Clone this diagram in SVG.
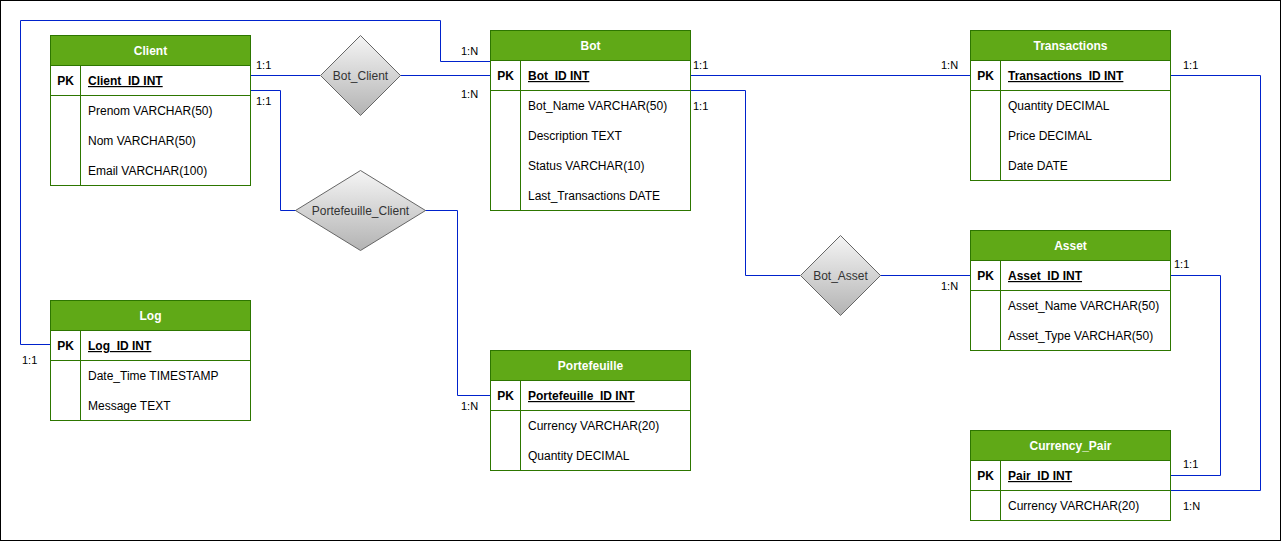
<svg xmlns="http://www.w3.org/2000/svg" width="1281" height="541" viewBox="0 0 1281 541">
<style>
.tb{fill:#fff;stroke:#2D7600;stroke-width:1}
.hd{fill:#60A917;stroke:#2D7600;stroke-width:1}
.ln{stroke:#2D7600;stroke-width:1;fill:none}
.ht{font-family:"Liberation Sans",Arial,sans-serif;font-size:12px;font-weight:bold;fill:#fff;text-anchor:middle}
.pk{font-family:"Liberation Sans",Arial,sans-serif;font-size:12px;font-weight:bold;fill:#000;text-anchor:middle}
.key{font-family:"Liberation Sans",Arial,sans-serif;font-size:12px;font-weight:bold;fill:#000;text-decoration:underline}
.rt{font-family:"Liberation Sans",Arial,sans-serif;font-size:12px;fill:#000}
.dm{stroke:#666;stroke-width:1;fill:url(#g)}
.dt{font-family:"Liberation Sans",Arial,sans-serif;font-size:12px;fill:#333;text-anchor:middle}
.cn{stroke:#0022CC;stroke-width:1;fill:none}
.lb{font-family:"Liberation Sans",Arial,sans-serif;font-size:11px;fill:#000}
</style>
<defs>
<linearGradient id="g" x1="0" y1="0" x2="0" y2="1">
<stop offset="0" stop-color="#F5F5F5"/>
<stop offset="1" stop-color="#B3B3B3"/>
</linearGradient>
</defs>
<rect x="0.5" y="0.5" width="1280" height="540" fill="#fff" stroke="#000"/>

<g id="connectors">
<polyline class="cn" points="250,75.5 320,75.5"/>
<polyline class="cn" points="400,75.5 490,75.5"/>
<polyline class="cn" points="50,344.5 20.5,344.5 20.5,20.5 440.5,20.5 440.5,61.5 490,61.5"/>
<polyline class="cn" points="250,90.5 280.5,90.5 280.5,210.5 296,210.5"/>
<polyline class="cn" points="425,210.5 457.5,210.5 457.5,395.5 490,395.5"/>
<polyline class="cn" points="690,75.5 970,75.5"/>
<polyline class="cn" points="690,90.5 745.5,90.5 745.5,275.5 800,275.5"/>
<polyline class="cn" points="880,275.5 970,275.5"/>
<polyline class="cn" points="1170,275.5 1220.5,275.5 1220.5,475.5 1170,475.5"/>
<polyline class="cn" points="1170,75.5 1260.5,75.5 1260.5,490.5 1170,490.5"/>
<text class="lb" x="256" y="69">1:1</text>
<text class="lb" x="256" y="105">1:1</text>
<text class="lb" x="461" y="55">1:N</text>
<text class="lb" x="461" y="98">1:N</text>
<text class="lb" x="461" y="410">1:N</text>
<text class="lb" x="22" y="364">1:1</text>
<text class="lb" x="693" y="69">1:1</text>
<text class="lb" x="693" y="110">1:1</text>
<text class="lb" x="941" y="69">1:N</text>
<text class="lb" x="941" y="290">1:N</text>
<text class="lb" x="1183" y="69">1:1</text>
<text class="lb" x="1174" y="268">1:1</text>
<text class="lb" x="1183" y="468">1:1</text>
<text class="lb" x="1183" y="510">1:N</text>
</g>

<g id="Bot_Client">
<polygon class="dm" points="360.5,35.5 400.5,75.5 360.5,115.5 320.5,75.5"/>
<text class="dt" x="360.5" y="79.5">Bot_Client</text>
</g>
<g id="Portefeuille_Client">
<polygon class="dm" points="360.5,170.5 425.5,210.5 360.5,250.5 295.5,210.5"/>
<text class="dt" x="360.5" y="214.5">Portefeuille_Client</text>
</g>
<g id="Bot_Asset">
<polygon class="dm" points="840.5,235.5 880.5,275.5 840.5,315.5 800.5,275.5"/>
<text class="dt" x="840.5" y="279.5">Bot_Asset</text>
</g>

<g id="Client">
<rect class="tb" x="50.5" y="35.5" width="200" height="150"/>
<rect class="hd" x="50.5" y="35.5" width="200" height="30"/>
<path class="ln" d="M50.5 95.5H250.5M80.5 65.5V185.5"/>
<text class="ht" x="150.5" y="55">Client</text>
<text class="pk" x="65.5" y="85">PK</text>
<text class="key" x="88" y="85">Client_ID INT</text>
<text class="rt" x="88" y="115">Prenom VARCHAR(50)</text>
<text class="rt" x="88" y="145">Nom VARCHAR(50)</text>
<text class="rt" x="88" y="175">Email VARCHAR(100)</text>
</g>

<g id="Bot">
<rect class="tb" x="490.5" y="30.5" width="200" height="180"/>
<rect class="hd" x="490.5" y="30.5" width="200" height="30"/>
<path class="ln" d="M490.5 90.5H690.5M520.5 60.5V210.5"/>
<text class="ht" x="590.5" y="50">Bot</text>
<text class="pk" x="505.5" y="80">PK</text>
<text class="key" x="528" y="80">Bot_ID INT</text>
<text class="rt" x="528" y="110">Bot_Name VARCHAR(50)</text>
<text class="rt" x="528" y="140">Description TEXT</text>
<text class="rt" x="528" y="170">Status VARCHAR(10)</text>
<text class="rt" x="528" y="200">Last_Transactions DATE</text>
</g>

<g id="Transactions">
<rect class="tb" x="970.5" y="30.5" width="200" height="150"/>
<rect class="hd" x="970.5" y="30.5" width="200" height="30"/>
<path class="ln" d="M970.5 90.5H1170.5M1000.5 60.5V180.5"/>
<text class="ht" x="1070.5" y="50">Transactions</text>
<text class="pk" x="985.5" y="80">PK</text>
<text class="key" x="1008" y="80">Transactions_ID INT</text>
<text class="rt" x="1008" y="110">Quantity DECIMAL</text>
<text class="rt" x="1008" y="140">Price DECIMAL</text>
<text class="rt" x="1008" y="170">Date DATE</text>
</g>

<g id="Asset">
<rect class="tb" x="970.5" y="230.5" width="200" height="120"/>
<rect class="hd" x="970.5" y="230.5" width="200" height="30"/>
<path class="ln" d="M970.5 290.5H1170.5M1000.5 260.5V350.5"/>
<text class="ht" x="1070.5" y="250">Asset</text>
<text class="pk" x="985.5" y="280">PK</text>
<text class="key" x="1008" y="280">Asset_ID INT</text>
<text class="rt" x="1008" y="310">Asset_Name VARCHAR(50)</text>
<text class="rt" x="1008" y="340">Asset_Type VARCHAR(50)</text>
</g>

<g id="Currency_Pair">
<rect class="tb" x="970.5" y="430.5" width="200" height="90"/>
<rect class="hd" x="970.5" y="430.5" width="200" height="30"/>
<path class="ln" d="M970.5 490.5H1170.5M1000.5 460.5V520.5"/>
<text class="ht" x="1070.5" y="450">Currency_Pair</text>
<text class="pk" x="985.5" y="480">PK</text>
<text class="key" x="1008" y="480">Pair_ID INT</text>
<text class="rt" x="1008" y="510">Currency VARCHAR(20)</text>
</g>

<g id="Log">
<rect class="tb" x="50.5" y="300.5" width="200" height="120"/>
<rect class="hd" x="50.5" y="300.5" width="200" height="30"/>
<path class="ln" d="M50.5 360.5H250.5M80.5 330.5V420.5"/>
<text class="ht" x="150.5" y="320">Log</text>
<text class="pk" x="65.5" y="350">PK</text>
<text class="key" x="88" y="350">Log_ID INT</text>
<text class="rt" x="88" y="380">Date_Time TIMESTAMP</text>
<text class="rt" x="88" y="410">Message TEXT</text>
</g>

<g id="Portefeuille">
<rect class="tb" x="490.5" y="350.5" width="200" height="120"/>
<rect class="hd" x="490.5" y="350.5" width="200" height="30"/>
<path class="ln" d="M490.5 410.5H690.5M520.5 380.5V470.5"/>
<text class="ht" x="590.5" y="370">Portefeuille</text>
<text class="pk" x="505.5" y="400">PK</text>
<text class="key" x="528" y="400">Portefeuille_ID INT</text>
<text class="rt" x="528" y="430">Currency VARCHAR(20)</text>
<text class="rt" x="528" y="460">Quantity DECIMAL</text>
</g>
</svg>
